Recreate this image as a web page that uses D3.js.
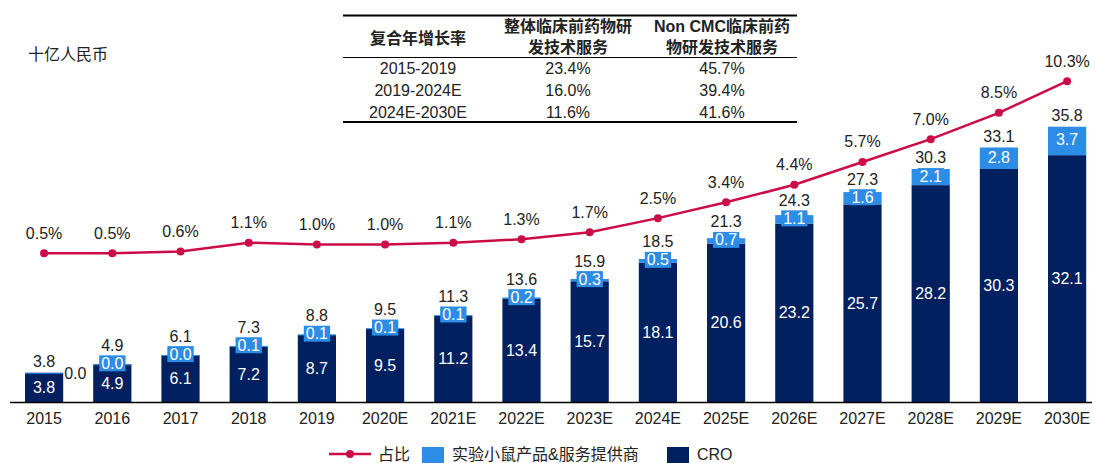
<!DOCTYPE html>
<html>
<head>
<meta charset="utf-8">
<title>临床前药物研发技术服务市场规模</title>
<script src="https://cdn.jsdelivr.net/npm/d3@7"></script>
<style>
  body { margin: 0; background: #fff; }
  svg text { font-family: "Liberation Sans", Arial, "Noto Sans CJK SC", sans-serif; fill: #222; font-size: 16px; }
</style>
</head>
<body>
<svg width="1095" height="463"></svg>
<script>
// 数据
var years = ["2015", "2016", "2017", "2018", "2019", "2020E", "2021E", "2022E",
             "2023E", "2024E", "2025E", "2026E", "2027E", "2028E", "2029E", "2030E"];
var cro = [3.8, 4.9, 6.1, 7.2, 8.7, 9.5, 11.2, 13.4, 15.7, 18.1, 20.6, 23.2, 25.7, 28.2, 30.3, 32.1];
var mouse = [0.0, 0.0, 0.0, 0.1, 0.1, 0.1, 0.1, 0.2, 0.3, 0.5, 0.7, 1.1, 1.6, 2.1, 2.8, 3.7];
var totals = [3.8, 4.9, 6.1, 7.3, 8.8, 9.5, 11.3, 13.6, 15.9, 18.5, 21.3, 24.3, 27.3, 30.3, 33.1, 35.8];
var share = [0.5, 0.5, 0.6, 1.1, 1.0, 1.0, 1.1, 1.3, 1.7, 2.5, 3.4, 4.4, 5.7, 7.0, 8.5, 10.3];

// CAGR 表格
var cagrHeader = [["复合年增长率"], ["整体临床前药物研", "发技术服务"], ["Non CMC临床前药", "物研发技术服务"]];
var cagrPeriods = ["2015-2019", "2019-2024E", "2024E-2030E"];
var cagrTotal = ["23.4%", "16.0%", "11.6%"];
var cagrNonCmc = ["45.7%", "39.4%", "41.6%"];

var colCro = "#002060", colMouse = "#2d8ce6", colLine = "#cc0c47";

var svg = d3.select("svg");

var x = d3.scaleBand().domain(years).range([10, 10 + 16 * 68.2]).paddingInner(0.44).paddingOuter(0.22);
var y = d3.scaleLinear().domain([0, 40]).range([402, 402 - 40 * 7.69]);
var y2 = d3.scaleLinear().domain([0, 12]).range([262, 262 - 12 * 17.55]);
var cx = function(i) { return x(years[i]) + x.bandwidth() / 2; };

// 单位
svg.append("text").attr("x", 28).attr("y", 54).attr("dominant-baseline", "central").text("十亿人民币");

// 柱子
var g = svg.append("g");
years.forEach(function(yr, i) {
    g.append("rect").attr("x", x(yr)).attr("width", x.bandwidth())
        .attr("y", y(cro[i])).attr("height", y(0) - y(cro[i])).attr("fill", colCro);
    g.append("rect").attr("x", x(yr)).attr("width", x.bandwidth())
        .attr("y", y(cro[i] + mouse[i])).attr("height", Math.max(1, y(cro[i]) - y(cro[i] + mouse[i])))
        .attr("fill", colMouse);
});

// 柱内标签
years.forEach(function(yr, i) {
    var c = cx(i);
    g.append("text").attr("x", c).attr("y", (y(0) + y(cro[i])) / 2)
        .attr("text-anchor", "middle").attr("dominant-baseline", "central")
        .style("fill", "#fff").text(cro[i].toFixed(1));

    var segMid = (y(cro[i]) + y(cro[i] + mouse[i])) / 2;
    var top = y(cro[i] + mouse[i]);
    var txt = mouse[i].toFixed(1);
    if (i === 0) {
        g.append("text").attr("x", x(yr) + x.bandwidth() + 1).attr("y", y(cro[i]) + 1)
            .attr("dominant-baseline", "central").text(txt);
    } else {
        var ly = segMid - 1;
        var t = g.append("text").attr("x", c).attr("y", ly)
            .attr("text-anchor", "middle").attr("dominant-baseline", "central")
            .style("fill", "#fff").text(txt);
        var bb = t.node().getBBox();
        g.insert("rect", function() { return t.node(); })
            .attr("x", bb.x - 2).attr("y", ly - 8).attr("width", bb.width + 4).attr("height", 16)
            .attr("fill", colMouse);
        top = Math.min(top, ly - 7);
    }
    g.append("text").attr("x", c).attr("y", top - 11)
        .attr("text-anchor", "middle").attr("dominant-baseline", "central")
        .text(totals[i].toFixed(1));
});

// 横轴
svg.append("line").attr("x1", 10).attr("x2", 1092).attr("y1", 402.5).attr("y2", 402.5)
    .attr("stroke", "#000").attr("stroke-width", 1.3);
years.forEach(function(yr, i) {
    svg.append("text").attr("x", cx(i)).attr("y", 418).attr("text-anchor", "middle")
        .attr("dominant-baseline", "central").text(yr);
});

// 占比折线
var line = d3.line().x(function(d, i) { return cx(i); }).y(function(d) { return y2(d); });
svg.append("path").datum(share).attr("d", line).attr("fill", "none")
    .attr("stroke", colLine).attr("stroke-width", 2.5);
svg.selectAll("circle.pt").data(share).enter().append("circle").attr("class", "pt")
    .attr("cx", function(d, i) { return cx(i); }).attr("cy", function(d) { return y2(d); })
    .attr("r", 4).attr("fill", colLine);
svg.selectAll("text.pt").data(share).enter().append("text").attr("class", "pt")
    .attr("x", function(d, i) { return cx(i); }).attr("y", function(d) { return y2(d) - 20; })
    .attr("text-anchor", "middle").attr("dominant-baseline", "central")
    .text(function(d) { return d.toFixed(1) + "%"; });

// 表格
var tbl = svg.append("g");
var cols = [418, 568, 722];
tbl.append("line").attr("x1", 343).attr("x2", 797).attr("y1", 15.5).attr("y2", 15.5).attr("stroke", "#000").attr("stroke-width", 2);
tbl.append("line").attr("x1", 343).attr("x2", 797).attr("y1", 57.5).attr("y2", 57.5).attr("stroke", "#000").attr("stroke-width", 1);
tbl.append("line").attr("x1", 343).attr("x2", 797).attr("y1", 122).attr("y2", 122).attr("stroke", "#000").attr("stroke-width", 2);
cagrHeader.forEach(function(lines, j) {
    lines.forEach(function(s, k) {
        var yy = lines.length === 1 ? 38 : 26 + k * 21;
        tbl.append("text").attr("x", cols[j]).attr("y", yy).attr("text-anchor", "middle")
            .attr("dominant-baseline", "central").style("font-weight", "bold").text(s);
    });
});
cagrPeriods.forEach(function(p, r) {
    var yy = 68 + r * 22;
    [p, cagrTotal[r], cagrNonCmc[r]].forEach(function(s, j) {
        tbl.append("text").attr("x", cols[j]).attr("y", yy).attr("text-anchor", "middle")
            .attr("dominant-baseline", "central").text(s);
    });
});

// 图例
var lg = svg.append("g");
lg.append("line").attr("x1", 329).attr("x2", 371).attr("y1", 454).attr("y2", 454).attr("stroke", colLine).attr("stroke-width", 2.5);
lg.append("circle").attr("cx", 350).attr("cy", 454).attr("r", 4).attr("fill", colLine);
lg.append("text").attr("x", 378).attr("y", 454).attr("dominant-baseline", "central").text("占比");
lg.append("rect").attr("x", 422).attr("y", 447).attr("width", 22).attr("height", 16).attr("fill", colMouse);
lg.append("text").attr("x", 452).attr("y", 454).attr("dominant-baseline", "central").text("实验小鼠产品&服务提供商");
lg.append("rect").attr("x", 667).attr("y", 447).attr("width", 22).attr("height", 16).attr("fill", colCro);
lg.append("text").attr("x", 697).attr("y", 454).attr("dominant-baseline", "central").text("CRO");
</script>
</body>
</html>
